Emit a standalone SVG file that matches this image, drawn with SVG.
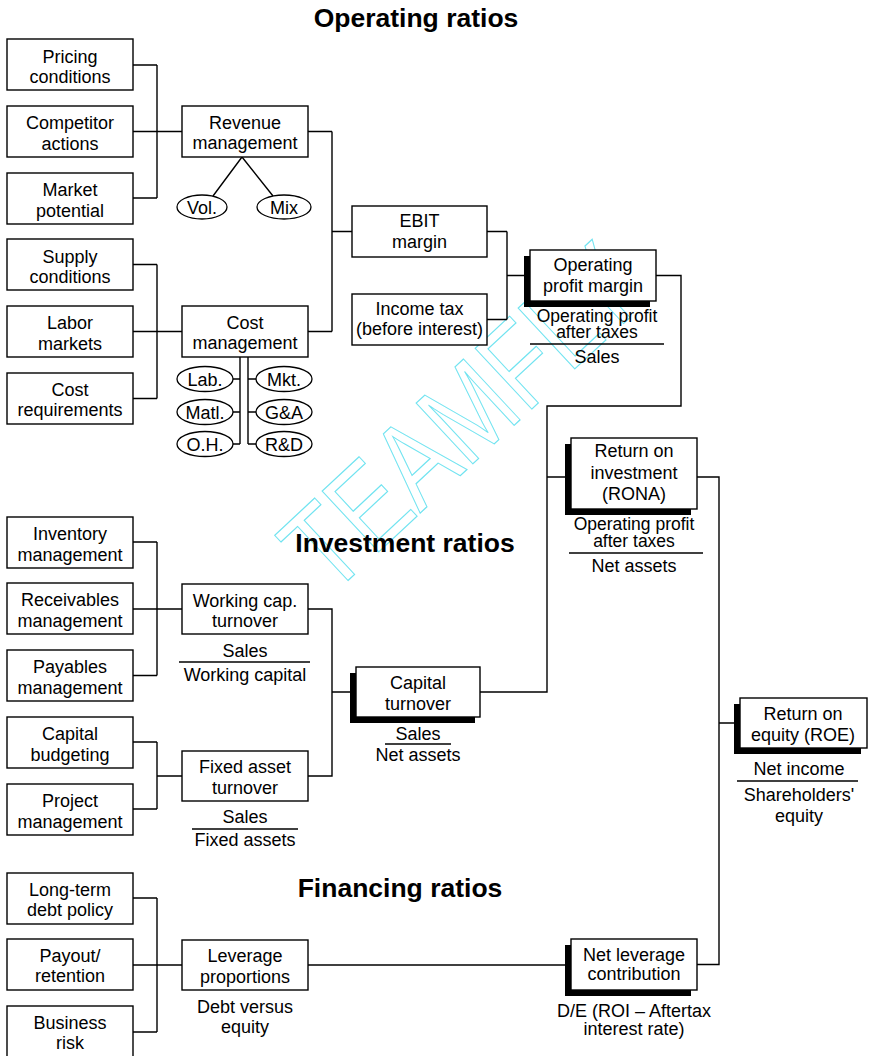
<svg xmlns="http://www.w3.org/2000/svg" width="870" height="1056" viewBox="0 0 870 1056">
<style>
.box{fill:#fff;stroke:#000;stroke-width:1.4}
.sh{fill:#000}
.ell{fill:#fff;stroke:#000;stroke-width:1.3}
.c{fill:none;stroke:#000;stroke-width:1.4}
.t{font-family:"Liberation Sans",Arial,sans-serif;font-size:18px;text-anchor:middle;fill:#000}
.f{font-family:"Liberation Sans",Arial,sans-serif;font-size:17.5px;text-anchor:middle;fill:#000}
.ti{font-family:"Liberation Sans",Arial,sans-serif;font-size:26.5px;font-weight:bold;text-anchor:middle;fill:#000}
.wm{font-family:"Liberation Sans",Arial,sans-serif;font-size:105px;text-anchor:middle;fill:none;stroke:#6fe3f0;stroke-width:1}
</style>
<rect width="870" height="1056" fill="#fff"/>

<g id="watermark"><text class="wm" transform="translate(490,448) rotate(-43) scale(0.92,1.15)">TEAMFLY</text></g>

<g id="titles">
<text class="ti" x="416" y="27">Operating ratios</text>
<text class="ti" x="405" y="552">Investment ratios</text>
<text class="ti" x="400" y="897">Financing ratios</text>
</g>

<g id="connectors">
<path class="c" d="M133,65H157M133,131.5H182M133,198H157M157,65V198"/>
<path class="c" d="M308,131.5H332M308,331.5H332M332,131.5V331.5M332,231.5H352"/>
<path class="c" d="M133,264.5H157M133,331.5H182M133,398.5H157M157,264.5V398.5"/>
<path class="c" d="M242,157L213,196M242,157L273,196"/>
<path class="c" d="M240,357V444M248,357V444M233,379H240M233,412H240M233,444H240M248,379H256M248,412H256M248,444H256"/>
<path class="c" d="M487,231.5H507M487,319.5H507M507,231.5V319.5M507,275.5H530"/>
<path class="c" d="M656,275.5H681V406H547V692H480M547,477H571"/>
<path class="c" d="M697,477H719V964.5H697M719,723H740"/>
<path class="c" d="M133,542H157M133,609H182M133,675.5H157M157,542V675.5"/>
<path class="c" d="M308,609H332V776H308M332,692H356"/>
<path class="c" d="M133,742H157M133,809H157M157,742V809M157,776H182"/>
<path class="c" d="M133,898H157M133,965H182M133,1032H157M157,898V1032"/>
<path class="c" d="M308,965H571"/>
</g>

<g id="pricing"><rect class="box" x="7" y="39" width="126" height="51"/><text class="t" x="70" y="63">Pricing</text><text class="t" x="70" y="83">conditions</text></g>
<g id="competitor"><rect class="box" x="7" y="106" width="126" height="51"/><text class="t" x="70" y="129">Competitor</text><text class="t" x="70" y="150">actions</text></g>
<g id="market"><rect class="box" x="7" y="173" width="126" height="51"/><text class="t" x="70" y="196">Market</text><text class="t" x="70" y="217">potential</text></g>
<g id="supply"><rect class="box" x="7" y="239" width="126" height="51"/><text class="t" x="70" y="263">Supply</text><text class="t" x="70" y="283">conditions</text></g>
<g id="labor"><rect class="box" x="7" y="306" width="126" height="51"/><text class="t" x="70" y="329">Labor</text><text class="t" x="70" y="350">markets</text></g>
<g id="costreq"><rect class="box" x="7" y="373" width="126" height="51"/><text class="t" x="70" y="396">Cost</text><text class="t" x="70" y="416">requirements</text></g>

<g id="revenue"><rect class="box" x="182" y="106" width="126" height="51"/><text class="t" x="245" y="129">Revenue</text><text class="t" x="245" y="149">management</text></g>
<g id="vol"><ellipse class="ell" cx="202" cy="207" rx="25" ry="12"/><text class="t" x="202" y="213.5">Vol.</text></g>
<g id="mix"><ellipse class="ell" cx="284" cy="207" rx="27" ry="12"/><text class="t" x="284" y="213.5">Mix</text></g>

<g id="costmgmt"><rect class="box" x="182" y="306" width="126" height="51"/><text class="t" x="245" y="329">Cost</text><text class="t" x="245" y="349">management</text></g>
<g id="lab"><ellipse class="ell" cx="205" cy="379" rx="28" ry="12.5"/><text class="t" x="205" y="385.5">Lab.</text></g>
<g id="matl"><ellipse class="ell" cx="205" cy="412" rx="28" ry="12.5"/><text class="t" x="205" y="418.5">Matl.</text></g>
<g id="oh"><ellipse class="ell" cx="205" cy="444" rx="28" ry="12.5"/><text class="t" x="205" y="450.5">O.H.</text></g>
<g id="mkt"><ellipse class="ell" cx="284" cy="379" rx="28" ry="12.5"/><text class="t" x="284" y="385.5">Mkt.</text></g>
<g id="ga"><ellipse class="ell" cx="284" cy="412" rx="28" ry="12.5"/><text class="t" x="284" y="418.5">G&amp;A</text></g>
<g id="rd"><ellipse class="ell" cx="284" cy="444" rx="28" ry="12.5"/><text class="t" x="284" y="450.5">R&amp;D</text></g>

<g id="ebit"><rect class="box" x="352" y="206" width="135" height="51"/><text class="t" x="419.5" y="227">EBIT</text><text class="t" x="419.5" y="248">margin</text></g>
<g id="incometax"><rect class="box" x="352" y="294" width="135" height="51"/><text class="t" x="419.5" y="315">Income tax</text><text class="t" x="419.5" y="335">(before interest)</text></g>

<g id="opm"><rect class="sh" x="524" y="256" width="126" height="51"/><rect class="box" x="530" y="250" width="126" height="51"/><text class="t" x="593" y="271">Operating</text><text class="t" x="593" y="292">profit margin</text>
<text class="f" x="597" y="322">Operating profit</text><text class="f" x="597" y="338">after taxes</text><path class="c" d="M530,344H664"/><text class="t" x="597" y="363">Sales</text></g>

<g id="rona"><rect class="sh" x="565" y="444" width="126" height="71"/><rect class="box" x="571" y="438" width="126" height="71"/><text class="t" x="634" y="457">Return on</text><text class="t" x="634" y="479">investment</text><text class="t" x="634" y="500">(RONA)</text>
<text class="f" x="634" y="530">Operating profit</text><text class="f" x="634" y="547">after taxes</text><path class="c" d="M569,553H703"/><text class="t" x="634" y="572">Net assets</text></g>

<g id="inventory"><rect class="box" x="7" y="517" width="126" height="51"/><text class="t" x="70" y="540">Inventory</text><text class="t" x="70" y="561">management</text></g>
<g id="receivables"><rect class="box" x="7" y="583" width="126" height="51"/><text class="t" x="70" y="606">Receivables</text><text class="t" x="70" y="627">management</text></g>
<g id="payables"><rect class="box" x="7" y="650" width="126" height="51"/><text class="t" x="70" y="673">Payables</text><text class="t" x="70" y="694">management</text></g>
<g id="capbudget"><rect class="box" x="7" y="717" width="126" height="51"/><text class="t" x="70" y="740">Capital</text><text class="t" x="70" y="761">budgeting</text></g>
<g id="project"><rect class="box" x="7" y="784" width="126" height="51"/><text class="t" x="70" y="807">Project</text><text class="t" x="70" y="828">management</text></g>

<g id="workingcap"><rect class="box" x="182" y="584" width="126" height="50"/><text class="t" x="245" y="607">Working cap.</text><text class="t" x="245" y="627">turnover</text>
<text class="t" x="245" y="657">Sales</text><path class="c" d="M179,662H310"/><text class="t" x="245" y="681">Working capital</text></g>
<g id="fixedasset"><rect class="box" x="182" y="751" width="126" height="50"/><text class="t" x="245" y="773">Fixed asset</text><text class="t" x="245" y="794">turnover</text>
<text class="t" x="245" y="823">Sales</text><path class="c" d="M192,829H298"/><text class="t" x="245" y="846">Fixed assets</text></g>

<g id="capturnover"><rect class="sh" x="350" y="673" width="125" height="50"/><rect class="box" x="356" y="667" width="124" height="50"/><text class="t" x="418" y="689">Capital</text><text class="t" x="418" y="710">turnover</text>
<text class="t" x="418" y="740">Sales</text><path class="c" d="M385,744H451"/><text class="t" x="418" y="761">Net assets</text></g>

<g id="roe"><rect class="sh" x="734" y="704" width="127" height="50"/><rect class="box" x="740" y="698" width="127" height="50"/><text class="t" x="803" y="720">Return on</text><text class="t" x="803" y="741">equity (ROE)</text>
<text class="t" x="799" y="775">Net income</text><path class="c" d="M737,781H858"/><text class="t" x="799" y="801">Shareholders'</text><text class="t" x="799" y="822">equity</text></g>

<g id="longterm"><rect class="box" x="7" y="873" width="126" height="51"/><text class="t" x="70" y="896">Long-term</text><text class="t" x="70" y="916">debt policy</text></g>
<g id="payout"><rect class="box" x="7" y="939" width="126" height="51"/><text class="t" x="70" y="962">Payout/</text><text class="t" x="70" y="982">retention</text></g>
<g id="bizrisk"><rect class="box" x="7" y="1006" width="126" height="51"/><text class="t" x="70" y="1029">Business</text><text class="t" x="70" y="1049">risk</text></g>

<g id="leverage"><rect class="box" x="182" y="940" width="126" height="50"/><text class="t" x="245" y="962">Leverage</text><text class="t" x="245" y="983">proportions</text>
<text class="t" x="245" y="1013">Debt versus</text><text class="t" x="245" y="1033">equity</text></g>

<g id="netleverage"><rect class="sh" x="565" y="945" width="126" height="51"/><rect class="box" x="571" y="939" width="126" height="51"/><text class="t" x="634" y="961">Net leverage</text><text class="t" x="634" y="980">contribution</text>
<text class="t" x="634" y="1017">D/E (ROI – Aftertax</text><text class="t" x="634" y="1035">interest rate)</text></g>
</svg>
